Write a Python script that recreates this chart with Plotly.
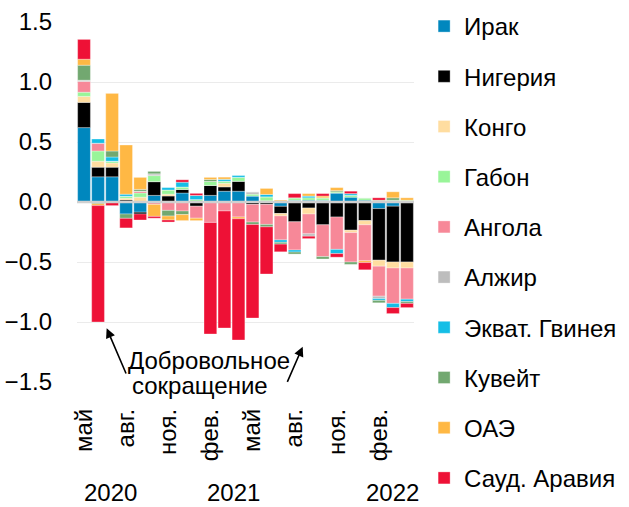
import plotly.graph_objects as go

months = ["2020-05", "2020-06", "2020-07", "2020-08", "2020-09", "2020-10",
          "2020-11", "2020-12", "2021-01", "2021-02", "2021-03", "2021-04",
          "2021-05", "2021-06", "2021-07", "2021-08", "2021-09", "2021-10",
          "2021-11", "2021-12", "2022-01", "2022-02", "2022-03", "2022-04"]
tick_months = ["2020-05", "2020-08", "2020-11", "2021-02", "2021-05", "2021-08", "2021-11", "2022-02"]
tick_labels = ["май", "авг.", "ноя.", "фев.", "май", "авг.", "ноя.", "фев."]
years = ["2020", "2021", "2022"]

iraq = [0.62, 0.21, 0.21, -0.10, -0.085, 0.055, 0, 0.075, 0, 0.055, 0.09, 0.09,
        0.05, 0, -0.036, 0.015, 0.015, 0.015, 0.075, 0.04, 0.015, -0.055, -0.035, 0]
nigeria = [0.21, 0.08, 0.08, 0.017, -0.015, 0.115, 0.05, 0.03, -0.035, 0.083, 0.036, 0.083,
           -0.02, -0.02, -0.06, -0.165, -0.05, -0.19, -0.125, -0.235, -0.155, -0.43, -0.465, -0.5]
congo = [0.05, 0.05, 0.035, 0.014, 0.04, 0, 0.015, 0, 0, 0, 0.03, 0,
         0, 0.01, -0.02, 0, -0.05, 0, 0, -0.02, -0.035, -0.05, -0.05, -0.05]
gabon = [0.035, 0.085, 0.015, 0.017, 0.035, 0.05, 0.035, 0.02, 0.02, 0.033, 0.017, 0.033,
         0.015, 0.033, 0, 0.02, 0.02, 0.02, 0.01, 0.015, 0.02, 0.015, 0.015, 0.015]
angola = [0.09, 0.065, 0, 0, 0.015, -0.02, -0.07, -0.075, -0.1, -0.17, -0.075, -0.125,
          -0.147, -0.167, -0.2, -0.235, -0.165, -0.265, -0.27, -0.245, -0.3, -0.25, -0.295, -0.26]
algeria = [0.01, 0, 0, 0, 0, 0.015, 0, 0, 0, 0, 0, 0,
           0.02, 0, 0, 0, -0.02, 0, 0, 0, 0, -0.02, 0, 0]
eq_guinea = [0, 0.035, 0.035, 0.017, 0, 0, 0.02, 0.04, 0.035, 0, 0.017, 0.017,
             0, 0.02, -0.02, -0.017, 0.015, 0, -0.035, 0.015, 0, -0.015, -0.035, -0.02]
kuwait = [0.125, -0.015, 0.05, -0.036, 0.015, 0.02, -0.047, -0.03, 0, 0.017, 0, 0,
          -0.02, -0.02, -0.015, -0.017, 0, -0.02, 0.01, -0.02, 0, -0.02, 0.02, -0.015]
uae = [0.05, -0.015, 0.48, 0.41, 0.1, -0.1, -0.033, -0.05, -0.02, 0.017, 0.017, -0.015,
       0, 0.05, 0.015, 0, 0.02, 0.015, 0.025, 0, -0.015, 0, 0.05, 0.02]
saudi = [0.165, -0.97, -0.03, -0.08, -0.05, -0.015, -0.017, 0.02, 0.017, -0.93, -0.975, -1.01,
         -0.78, -0.393, -0.064, 0.035, -0.02, 0.02, -0.03, 0.02, -0.06, 0.02, -0.05, -0.035]

series = [
    ("Ирак", iraq, "#0087BE"),
    ("Нигерия", nigeria, "#000000"),
    ("Конго", congo, "#FFDDA0"),
    ("Габон", gabon, "#99F599"),
    ("Ангола", angola, "#F78898"),
    ("Алжир", algeria, "#BDBDBD"),
    ("Экват. Гвинея", eq_guinea, "#14BEE6"),
    ("Кувейт", kuwait, "#72A870"),
    ("ОАЭ", uae, "#FFB844"),
    ("Сауд. Аравия", saudi, "#EE1136"),
]

FONT = "Liberation Sans, Arial, sans-serif"

fig = go.Figure()
for name, vals, col in series:
    fig.add_trace(go.Bar(
        x=months, y=vals, name=name, legendgroup=name,
        marker=dict(color=col, line=dict(color="rgba(255,255,255,0.55)", width=0.6)),
    ))

fig.update_layout(
    width=629, height=507,
    margin=dict(l=77, r=215, t=22, b=125, autoexpand=False),
    barmode="relative", bargap=0.09,
    plot_bgcolor="white", paper_bgcolor="white",
    font=dict(family=FONT, size=22, color="#000000"),
    showlegend=True,
    legend=dict(
        traceorder="grouped", x=1.03, xanchor="left", y=1.05, yanchor="top",
        font=dict(family=FONT, size=24, color="#000000"), maxheight=600,
        tracegroupgap=16, bgcolor="rgba(0,0,0,0)",
    ),
    xaxis=dict(
        type="category", tickmode="array", tickvals=tick_months, ticktext=tick_labels,
        tickangle=-90, showgrid=False, showline=False, ticks="", automargin=False,
        tickfont=dict(family=FONT, size=24), ticklabelstandoff=21,
    ),
    yaxis=dict(
        range=[-1.5, 1.5], dtick=0.5, tickformat=".1f", showgrid=True, automargin=False,
        gridcolor="#EBEBEB", gridwidth=1, zeroline=False, showline=False, ticks="",
        tickfont=dict(family=FONT, size=24), ticklabelstandoff=24,
    ),
)

fig.add_shape(type="line", xref="paper", yref="y", x0=0, x1=1, y0=0, y1=0,
              line=dict(color="#D0D0D0", width=2.5), layer="above")

year_x = [0.098, 0.464, 0.936]
for yr, xp in zip(years, year_x):
    fig.add_annotation(text=yr, xref="paper", yref="paper", x=xp, y=-0.3056,
                       xanchor="center", yanchor="middle", showarrow=False,
                       font=dict(family=FONT, size=24, color="#000000"))

fig.add_annotation(text="Добровольное", xref="paper", yref="paper", x=0.146, y=0.0597,
                   xanchor="left", yanchor="middle", showarrow=False,
                   font=dict(family=FONT, size=24, color="#000000"))
fig.add_annotation(text="сокращение", xref="paper", yref="paper", x=0.158, y=-0.0097,
                   xanchor="left", yanchor="middle", showarrow=False,
                   font=dict(family=FONT, size=24, color="#000000"))

for hx, hy, ax, ay in [(0.0881, 0.149, 20, 46.7), (0.6697, 0.098, -16, 36.6)]:
    fig.add_annotation(text="", xref="paper", yref="paper", x=hx, y=hy,
                       ax=ax, ay=ay, showarrow=True, arrowhead=2, arrowsize=1.2,
                       arrowwidth=1.6, arrowcolor="#000000", standoff=0, startstandoff=0)

fig.write_html("out.html", config={"displayModeBar": False},
               post_script="document.body.style.margin='0';document.body.style.padding='0';")
